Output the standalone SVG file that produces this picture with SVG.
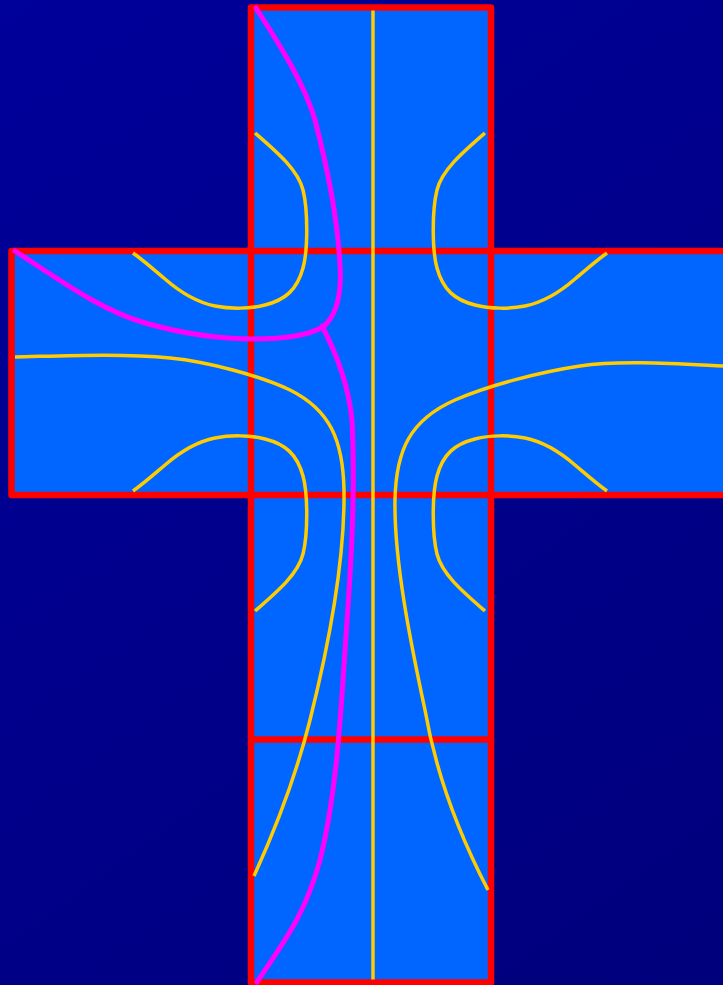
<svg xmlns="http://www.w3.org/2000/svg" width="723" height="985" viewBox="0 0 723 985">
  <defs>
    <linearGradient id="bg" x1="0" y1="0" x2="723" y2="985" gradientUnits="userSpaceOnUse">
      <stop offset="0" stop-color="#00009a"/>
      <stop offset="1" stop-color="#00007c"/>
    </linearGradient>
    <path id="hook" d="M255,133 C278,153 298,170 303,190 C308,210 308,250 303,268 C297,290 285,300 265,305 C250,309 230,309 215,306 C195,302 180,292 165,279 C152,268 143,260 133,253"/>
  </defs>
  <style>
    .fill { fill: #0066ff; stroke: none; }
    .red { fill: none; stroke: #ff0000; stroke-width: 6.5; stroke-linejoin: round; }
    .yel { fill: none; stroke: #ffcc00; stroke-width: 3.5; }
    .mag { fill: none; stroke: #ff00ff; stroke-width: 5; stroke-linecap: round; }
  </style>
  <rect x="0" y="0" width="723" height="985" fill="url(#bg)"/>
  <g id="cross-fill">
    <rect class="fill" x="251" y="7.5" width="240" height="975"/>
    <rect class="fill" x="11.5" y="251" width="720" height="244"/>
  </g>
  <g id="cross-outline">
    <rect class="red" x="251" y="7.5" width="240" height="975"/>
    <rect class="red" x="11.5" y="251" width="720" height="244"/>
    <line class="red" x1="251" y1="739.5" x2="491" y2="739.5"/>
  </g>
  <g id="yellow-lines">
    <line class="yel" x1="373" y1="10.5" x2="373" y2="979.5"/>
    <use href="#hook" class="yel"/>
    <use href="#hook" class="yel" transform="translate(740,0) scale(-1,1)"/>
    <use href="#hook" class="yel" transform="translate(0,744) scale(1,-1)"/>
    <use href="#hook" class="yel" transform="translate(740,744) scale(-1,-1)"/>
    <path class="yel" d="M15,357 C60,356 120,353 170,358 C210,362 260,376 290,390 C330,410 343,440 344,490 C345,560 330,640 310,720 C295,780 275,830 254,876"/>
    <path class="yel" d="M723,366 C680,364 620,360 580,366 C540,372 490,385 455,400 C410,420 396,450 395,500 C394,560 410,640 425,710 C437,780 462,840 488,890"/>
  </g>
  <g id="magenta-lines">
    <path class="mag" d="M256,8 C280,45 305,85 315,120 C328,170 338,225 340,265 C342,295 337,315 323,327 C305,337 280,339 255,339 C220,339 180,333 145,323 C100,310 60,280 15,251"/>
    <path class="mag" d="M322,326 C332,345 348,380 352,420 C356,500 350,580 345,650 C340,730 335,800 320,860 C305,915 285,940 257,982"/>
  </g>
</svg>
